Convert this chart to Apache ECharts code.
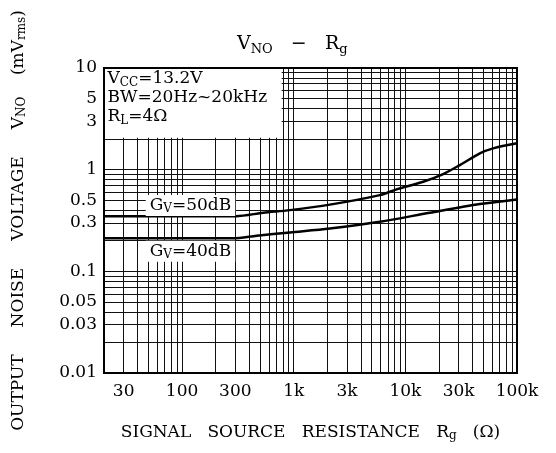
<!DOCTYPE html>
<html><head><meta charset="utf-8">
<script src="https://cdn.jsdelivr.net/npm/echarts@6/dist/echarts.min.js"></script>
<style>html,body{margin:0;padding:0;background:#fff}#c{width:556px;height:453px}</style>
</head><body><div id="c"></div>
<script>
// ---- data ----
const xTickLabels = [30, 100, 300, 1000, 3000, 10000, 30000, 100000];
const yTickLabels = [0.01, 0.03, 0.05, 0.1, 0.3, 0.5, 1, 3, 5, 10];
const xDecades = [10, 100, 1000, 10000];
const yDecades = [0.01, 0.1, 1];
const gridMultipliers = [1, 2, 3, 4, 5, 6, 7, 8, 9];

const rg50  = [20, 304, 534, 925, 2110, 5912, 8340, 14440, 21800, 30770, 46480, 61100, 100000];
const vno50 = [0.349, 0.349, 0.377, 0.400, 0.453, 0.562, 0.640, 0.760, 0.905, 1.11, 1.447, 1.62, 1.815];
const rg40  = [20, 286, 466, 925, 2110, 5912, 16570, 46480, 100000];
const vno40 = [0.211, 0.211, 0.224, 0.2415, 0.264, 0.307, 0.377, 0.459, 0.510];

const xMin = 20, xMax = 100000, yMin = 0.01, yMax = 10;

// grid values (log paper)
const xGrid = [];
xDecades.forEach(d => gridMultipliers.forEach(m => { const v = d * m; if (v >= xMin && v <= xMax) xGrid.push(v); }));
xGrid.push(100000);
const yGrid = [];
yDecades.forEach(d => gridMultipliers.forEach(m => yGrid.push(+(d * m).toPrecision(3))));
yGrid.push(10);

const FONT = 'DejaVu Serif';
const fmtX = v => { v = Math.round(v); return v >= 1000 ? (v / 1000) + 'k' : String(v); };
const fmtY = v => String(+(+v).toPrecision(3));
const pairs = (xs, ys) => xs.map((x, i) => [x, ys[i]]);

const chart = echarts.init(document.getElementById('c'), null, {renderer: 'canvas'});
const sub = {fontFamily: FONT, fontSize: 12, fontWeight: 'normal', color: '#000', verticalAlign: 'bottom', lineHeight: 16};
const main = {fontFamily: FONT, fontSize: 17, fontWeight: 'normal', color: '#000', lineHeight: 19};

chart.setOption({
  animation: false,
  backgroundColor: '#fff',
  title: {
    left: 232, top: 27,
    text: '{v|V}{s|NO}{v|   −   R}{s|g}',
    textStyle: {
      fontWeight: 'normal',
      rich: {
        v: {fontFamily: FONT, fontSize: 19, fontWeight: 'normal', color: '#000', lineHeight: 24},
        s: {fontFamily: FONT, fontSize: 13, fontWeight: 'normal', color: '#000', lineHeight: 17, verticalAlign: 'bottom'}
      }
    }
  },
  grid: {left: 104, right: 39, top: 68, bottom: 80, show: false},
  xAxis: {
    type: 'log', logBase: 10, min: xMin, max: xMax,
    name: '{a|SIGNAL   SOURCE   RESISTANCE   R}{s|g}{a|   (Ω)}',
    nameLocation: 'middle', nameGap: 50,
    nameTextStyle: {rich: {a: main, s: sub}},
    axisLine: {show: true, lineStyle: {color: '#000', width: 2}},
    axisTick: {show: false, customValues: xGrid},
    axisLabel: {customValues: xTickLabels, formatter: fmtX, fontFamily: FONT, fontSize: 17, color: '#000', margin: 10},
    splitLine: {show: true, lineStyle: {color: '#111', width: 1}}
  },
  yAxis: {
    type: 'log', logBase: 10, min: yMin, max: yMax,
    name: '{a|OUTPUT     NOISE     VOLTAGE     V}{s|NO}{a|    (mV}{s|rms}{a|)}',
    nameLocation: 'middle', nameRotate: 90, nameGap: 76,
    nameTextStyle: {rich: {a: main, s: sub}},
    axisLine: {show: true, lineStyle: {color: '#000', width: 2}},
    axisTick: {show: false, customValues: yGrid},
    axisLabel: {customValues: yTickLabels, formatter: fmtY, fontFamily: FONT, fontSize: 17, color: '#000', margin: 7},
    splitLine: {show: true, lineStyle: {color: '#111', width: 1}}
  },
  series: [
    {
      type: 'line', name: 'Gv=50dB', data: pairs(rg50, vno50),
      symbol: 'none', smooth: 0.3,
      lineStyle: {color: '#000', width: 2.5},
      markArea: {
        silent: true,
        itemStyle: {color: '#fff', opacity: 1},
        label: {show: false},
        data: [[{coord: [xMin, yMax]}, {coord: [780, 2.06]}]]
      },
      markPoint: {
        silent: true, symbol: 'circle', symbolSize: 1,
        itemStyle: {color: 'rgba(0,0,0,0)'},
        label: {
          show: true, position: 'inside', backgroundColor: '#fff', padding: [1, 4],
          rich: {a: main, s: sub}
        },
        data: [
          {coord: [119, 0.443], label: {formatter: '{a|G}{s|V}{a|=50dB}'}},
          {coord: [119, 0.158], label: {formatter: '{a|G}{s|V}{a|=40dB}'}},
          {coord: [xMin, yMax], label: {
            position: [4, 2], align: 'left', verticalAlign: 'top', backgroundColor: 'transparent', padding: 0,
            formatter: '{a|V}{s|CC}{a|=13.2V}\n{a|BW=20Hz~20kHz}\n{a|R}{s|L}{a|=4Ω}'
          }}
        ]
      }
    },
    {
      type: 'line', name: 'Gv=40dB', data: pairs(rg40, vno40),
      symbol: 'none', smooth: 0.3,
      lineStyle: {color: '#000', width: 2.5}
    }
  ]
});
// frame around plot
const g = chart.getModel().getComponent('grid').coordinateSystem.getRect();
chart.setOption({graphic: [{type: 'rect', shape: {x: g.x, y: g.y, width: g.width, height: g.height}, style: {fill: null, stroke: '#000', lineWidth: 2}, z: 100, silent: true}]});
</script>
</body></html>
